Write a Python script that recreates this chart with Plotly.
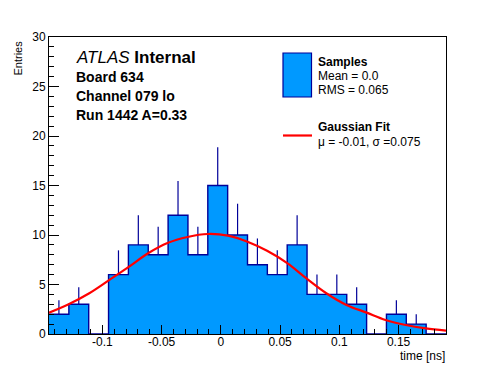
import plotly.graph_objects as go
import numpy as np

# ---- data ----
x_min, x_max, n_bins = -0.145, 0.19, 20
counts = [2, 3, 0, 6, 9, 8, 12, 8, 15, 10, 7, 6, 9, 4, 4, 3, 0, 2, 1, 0]
errors = [1.41, 1.73, 0, 2.45, 3.0, 2.83, 3.46, 2.83, 3.87, 3.16,
          2.65, 2.45, 3.0, 2.0, 2.0, 1.73, 0, 1.41, 1.0, 0]
fit_x = [-0.145, -0.128, -0.111, -0.094, -0.078, -0.061, -0.045, -0.028, -0.011,
         0.006, 0.023, 0.039, 0.056, 0.072, 0.089, 0.106, 0.123, 0.139, 0.156,
         0.173, 0.19]
fit_y = [2.16, 3.04, 4.12, 5.47, 6.76, 8.18, 9.19, 9.8, 10.1,
         9.93, 9.29, 8.4, 7.16, 5.64, 4.12, 2.94, 2.16, 1.42, 0.91,
         0.57, 0.35]
x_tickvals = [-0.1, -0.05, 0, 0.05, 0.1, 0.15]
x_ticktext = ["-0.1", "-0.05", "0", "0.05", "0.1", "0.15"]
y_tickvals = [0, 5, 10, 15, 20, 25, 30]
y_ticktext = ["0", "5", "10", "15", "20", "25", "30"]

edges = np.linspace(x_min, x_max, n_bins + 1)
centers = 0.5 * (edges[:-1] + edges[1:])
bw = edges[1] - edges[0]

FILL = "#0099ff"
NAVY = "#000099"
FONT = "Liberation Sans, Arial, Helvetica, sans-serif"

W, H = 496, 372
L, R, T, B = 49, 446, 37, 334


def px(xp):
    return (xp - L) / (R - L)


def py(yp):
    return (B - yp) / (B - T)


fig = go.Figure()
fig.add_trace(go.Bar(x=centers, y=counts, width=bw, marker=dict(color=FILL, line=dict(width=0)),
                     hoverinfo="skip", showlegend=False))
err_x = [c for c, e in zip(centers, errors) if e > 0]
err_y = [v for v, e in zip(counts, errors) if e > 0]
err_e = [e for e in errors if e > 0]
fig.add_trace(go.Scatter(x=err_x, y=err_y, mode="markers", marker=dict(size=0.1, color=NAVY),
                         error_y=dict(type="data", symmetric=False, array=err_e,
                                      arrayminus=[0] * len(err_e), width=0,
                                      thickness=1.2, color=NAVY),
                         showlegend=False, hoverinfo="skip"))
fig.add_trace(go.Scatter(x=list(edges), y=counts + [counts[-1]], mode="lines",
                         line=dict(shape="hv", color=NAVY, width=1.4),
                         showlegend=False, hoverinfo="skip"))
fig.add_trace(go.Scatter(x=fit_x, y=fit_y, mode="lines",
                         line=dict(shape="spline", color="#ff0000", width=2.2),
                         showlegend=False, hoverinfo="skip"))

fig.update_layout(
    width=W, height=H,
    margin=dict(l=L, r=W - R, t=T, b=H - B, pad=0, autoexpand=False),
    paper_bgcolor="white", plot_bgcolor="white",
    font=dict(family=FONT, size=12, color="black"),
    bargap=0, showlegend=False,
    xaxis=dict(range=[x_min, x_max], tickvals=x_tickvals, ticktext=x_ticktext,
               ticks="inside", ticklen=9, tickcolor="black", tickwidth=1,
               showline=True, linecolor="black", linewidth=1, mirror=True,
               showgrid=False, zeroline=False, ticklabelstandoff=-3,
               minor=dict(dtick=0.01, tick0=0, ticks="inside", ticklen=5,
                          tickcolor="black", showgrid=False),
               tickfont=dict(size=12)),
    yaxis=dict(range=[0, 30], tickvals=y_tickvals, ticktext=y_ticktext,
               ticks="inside", ticklen=10, tickcolor="black", tickwidth=1,
               showline=True, linecolor="black", linewidth=1, mirror=True,
               showgrid=False, zeroline=False,
               minor=dict(dtick=1, tick0=0, ticks="inside", ticklen=5,
                          tickcolor="black", showgrid=False),
               tickfont=dict(size=12)),
)

ann = []


def text(s, xp, yp, size=12, xanchor="left", angle=0, yanchor="middle"):
    ann.append(dict(text=s, x=px(xp), y=py(yp), xref="paper", yref="paper",
                    xanchor=xanchor, yanchor=yanchor, showarrow=False, textangle=angle,
                    font=dict(family=FONT, size=size, color="black")))


text("<i>ATLAS</i> <b>Internal</b>", 74, 57, size=17)
text("<b>Board 634</b>", 74, 76.5, size=14)
text("<b>Channel 079 lo</b>", 74, 96, size=14)
text("<b>Run 1442 A=0.33</b>", 74, 115.5, size=14)

text("<b>Samples</b>", 316, 61.5)
text("Mean = 0.0", 316, 76)
text("RMS = 0.065", 316, 90)
text("<b>Gaussian Fit</b>", 316, 127)
text("\u03bc = -0.01, \u03c3 =0.075", 316, 141.5)

text("time [ns]", 447, 356, xanchor="right")
text("Entries", 18, 39, size=11, angle=-90, xanchor="center", yanchor="top")

fig.update_layout(annotations=ann)

fig.add_shape(type="rect", xref="paper", yref="paper",
              x0=px(283), x1=px(311.5), y0=py(97), y1=py(53),
              fillcolor=FILL, line=dict(color=NAVY, width=1.2))
fig.add_shape(type="line", xref="paper", yref="paper",
              x0=px(283), x1=px(312), y0=py(135.5), y1=py(135.5),
              line=dict(color="#ff0000", width=2.2))

fig.write_html("out.html", config={"displayModeBar": False},
               post_script="document.body.style.margin='0';document.body.style.padding='0';")
